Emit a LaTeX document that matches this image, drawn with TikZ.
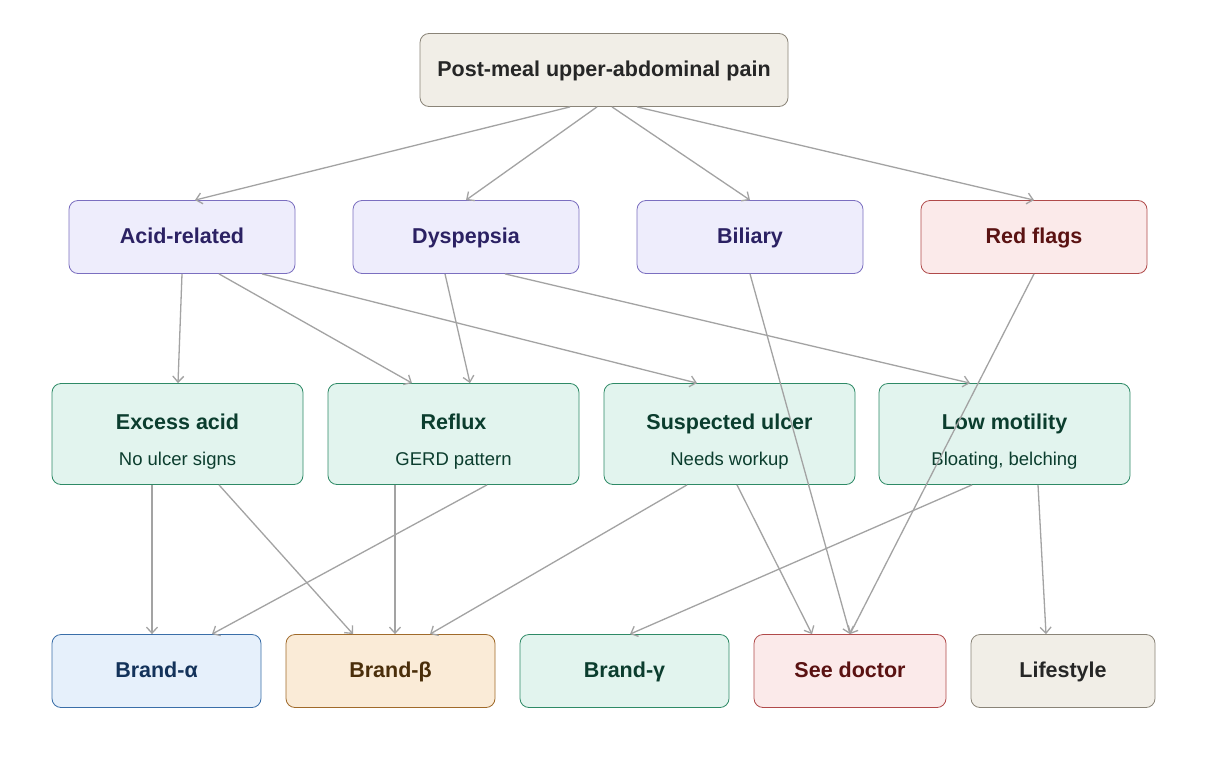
\documentclass[tikz,border=0pt]{standalone}
\usepackage{fontspec}
\setmainfont{Liberation Sans}
\usetikzlibrary{arrows.meta}
\definecolor{greyfill}{HTML}{F1EEE7}\definecolor{greydraw}{HTML}{8A8478}
\definecolor{purpfill}{HTML}{EEEDFC}\definecolor{purpdraw}{HTML}{7B6FC0}\definecolor{purptext}{HTML}{2B2163}
\definecolor{redfill}{HTML}{FBEAEA}\definecolor{reddraw}{HTML}{B04A4A}\definecolor{redtext}{HTML}{5A1212}
\definecolor{grnfill}{HTML}{E2F4EE}\definecolor{grndraw}{HTML}{2E8A66}\definecolor{grntext}{HTML}{0B3D2E}
\definecolor{bluefill}{HTML}{E6F0FB}\definecolor{bluedraw}{HTML}{3A6EA8}\definecolor{bluetext}{HTML}{13325A}
\definecolor{orfill}{HTML}{FAEBD7}\definecolor{ordraw}{HTML}{A06A2A}\definecolor{ortext}{HTML}{4A2E0A}
\definecolor{edgegrey}{HTML}{A3A3A3}
\tikzset{
  box/.style={rectangle, rounded corners=9pt, line width=0.8pt, align=center, inner sep=0pt,
    font=\fontsize{21.5}{25}\selectfont\bfseries},
  cat/.style={box, minimum width=226pt, minimum height=73pt, fill=purpfill, draw=purpdraw, text=purptext},
  mech/.style={box, minimum width=251pt, minimum height=101pt, fill=grnfill, draw=grndraw, text=grntext},
  brand/.style={box, minimum width=209pt, minimum height=73pt},
  link/.style={draw=edgegrey, line width=1.3pt, -{Straight Barb[length=6pt,width=11pt]}}
}
\newcommand{\onestrut}{\rule[-7.5pt]{0pt}{27.5pt}}
\newcommand{\twostrut}{\rule[-7.5pt]{0pt}{41pt}}
\newcommand{\sub}[1]{\\[11pt]{\fontsize{18.5}{21}\selectfont\mdseries\strut #1}}
\newcommand{\edge}[4]{\draw[link] ([xshift=#2pt]#1.south) -- ([xshift=#4pt]#3.north);}
\begin{document}
\begin{tikzpicture}[x=1pt,y=-1pt]
\useasboundingbox[fill=white] (0,0) rectangle (1206,768);
% top
\node[box, minimum width=368pt, minimum height=73pt, fill=greyfill, draw=greydraw, text=black!85] (pain) at (604,70) {\onestrut Post-meal upper-abdominal pain};
% categories
\node[cat] (acid) at (182,237) {\onestrut Acid-related};
\node[cat] (dysp) at (466,237) {\onestrut Dyspepsia};
\node[cat] (bil) at (750,237) {\onestrut Biliary};
\node[cat, fill=redfill, draw=reddraw, text=redtext] (red) at (1034,237) {\onestrut Red flags};
% mechanisms
\node[mech] (excess) at (177.5,434) {\twostrut Excess acid\sub{No ulcer signs}};
\node[mech] (reflux) at (453.5,434) {\twostrut Reflux\sub{GERD pattern}};
\node[mech] (ulcer) at (729.5,434) {\twostrut Suspected ulcer\sub{Needs workup}};
\node[mech] (lowmot) at (1004.5,434) {\twostrut Low motility\sub{Bloating, belching}};
% outcomes
\node[brand, fill=bluefill, draw=bluedraw, text=bluetext] (alpha) at (156.5,671) {\onestrut Brand-α};
\node[brand, fill=orfill, draw=ordraw, text=ortext] (beta) at (390.5,671) {\onestrut Brand-β};
\node[brand, fill=grnfill, draw=grndraw, text=grntext] (gamma) at (624.5,671) {\onestrut Brand-γ};
\node[brand, minimum width=192pt, fill=redfill, draw=reddraw, text=redtext] (doctor) at (850,671) {\onestrut See doctor};
\node[brand, minimum width=184pt, fill=greyfill, draw=greydraw, text=black!85] (life) at (1063,671) {\onestrut Lifestyle};
% connectors
\edge{pain}{-34}{acid}{13}
\edge{pain}{-7}{dysp}{0}
\edge{pain}{8}{bil}{0}
\edge{pain}{33}{red}{0}
\edge{acid}{0}{excess}{0.5}
\edge{acid}{37}{reflux}{-41.5}
\edge{acid}{80}{ulcer}{-32.5}
\edge{dysp}{-21}{reflux}{16.5}
\edge{dysp}{39}{lowmot}{-34.5}
\edge{bil}{0}{doctor}{0}
\edge{red}{0}{doctor}{0}
\edge{excess}{-25.5}{alpha}{-4.5}
\edge{excess}{41.5}{beta}{-37.5}
\edge{reflux}{-58.5}{beta}{4.5}
\edge{reflux}{33.5}{alpha}{55.5}
\edge{ulcer}{-42.5}{beta}{39.5}
\edge{ulcer}{7.5}{doctor}{-38}
\edge{lowmot}{-32.5}{gamma}{5.5}
\edge{lowmot}{33.5}{life}{-17}
\end{tikzpicture}
\end{document}
